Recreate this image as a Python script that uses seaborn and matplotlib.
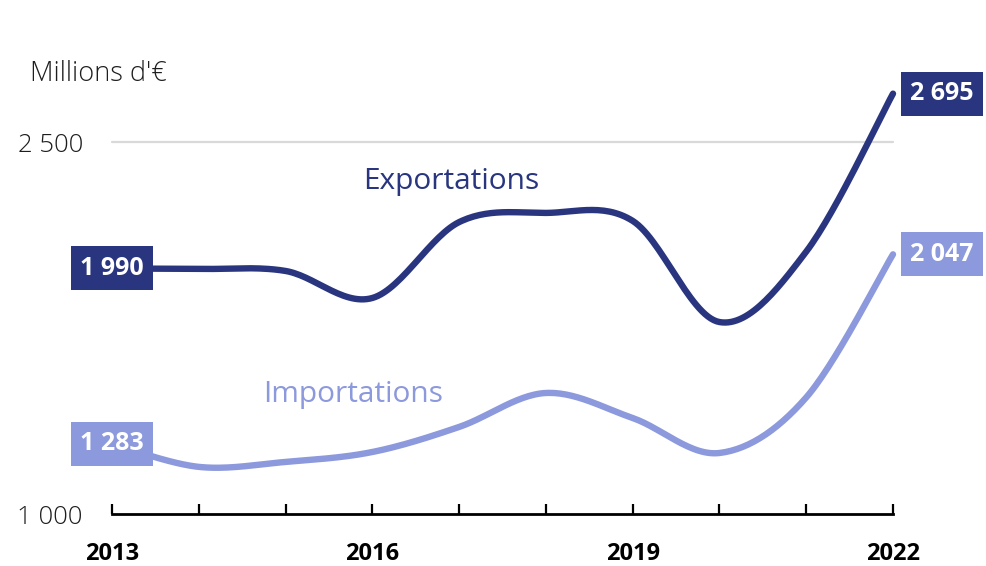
import numpy as np
import pandas as pd
import matplotlib
matplotlib.use("Agg")
import matplotlib.pyplot as plt
import seaborn as sns

# ── data ────────────────────────────────────────────────────────────────────
years = [2013, 2014, 2015, 2016, 2017, 2018, 2019, 2020, 2021, 2022]
exportations = [1990, 1988, 1980, 1871, 2177, 2214, 2182, 1774, 2058, 2695]
importations = [1283, 1190, 1210, 1250, 1351, 1488, 1387, 1246, 1470, 2047]
year_labels = ["2013", "", "", "2016", "", "", "2019", "", "", "2022"]
y_ticks = [1000, 2500]
y_tick_labels = ["1 000", "2 500"]

DARK = "#29367f"
LIGHT = "#8c99dc"
TXT = "#1e1e1e"


def smooth(x, y, n=30):
    # catmull-rom curve through the yearly points (drawing only)
    x = np.asarray(x, float)
    y = np.asarray(y, float)
    px = np.concatenate([[x[0]], x, [x[-1]]])
    py = np.concatenate([[y[0]], y, [y[-1]]])
    xs, ys = [], []
    for i in range(1, len(px) - 2):
        t = np.linspace(0, 1, n, endpoint=False)
        for p, out in ((px, xs), (py, ys)):
            p0, p1, p2, p3 = p[i - 1], p[i], p[i + 1], p[i + 2]
            out.extend(0.5 * ((2 * p1) + (-p0 + p2) * t
                              + (2 * p0 - 5 * p1 + 4 * p2 - p3) * t ** 2
                              + (-p0 + 3 * p1 - 3 * p2 + p3) * t ** 3))
    xs.append(x[-1])
    ys.append(y[-1])
    return pd.DataFrame({"year": xs, "value": ys})


sns.set_style("white")
plt.rcParams["font.family"] = ["Open Sans", "DejaVu Sans"]

fig = plt.figure(figsize=(9.87, 5.66), dpi=100)
ax = fig.add_axes([112 / 987, 52 / 566, 781 / 987, 372 / 566])

ax.axhline(2500, color="#d9d9d9", lw=1.6, zorder=0)

for vals, col in ((exportations, DARK), (importations, LIGHT)):
    sns.lineplot(data=smooth(years, vals), x="year", y="value", color=col,
                 lw=4.6, ax=ax, sort=False, estimator=None)
for l in ax.lines:
    l.set_clip_on(False)
    l.set_solid_capstyle("round")

ax.set_xlim(2013, 2022)
ax.set_ylim(1000, 2500)
ax.set_xlabel("")
ax.set_ylabel("")

for s in ["top", "right", "left"]:
    ax.spines[s].set_visible(False)
ax.spines["bottom"].set_color("black")
ax.spines["bottom"].set_linewidth(2)

ax.set_xticks(years)
ax.set_xticklabels(year_labels, fontsize=17, fontweight="bold", color="black")
ax.tick_params(axis="x", direction="in", length=7, width=1.6, pad=20,
               color="black", bottom=True)
ax.set_yticks(y_ticks)
ax.set_yticklabels(y_tick_labels, fontsize=18.5, fontweight="light", color=TXT)
ax.tick_params(axis="y", length=0, pad=21)

# value boxes
for vals, col in ((exportations, DARK), (importations, LIGHT)):
    box = dict(boxstyle="square,pad=0.38", fc=col, ec="none")
    ax.annotate(f"{vals[0]:,}".replace(",", " "), (years[0], vals[0]),
                ha="center", va="center", fontsize=18, fontweight="bold",
                color="white", bbox=box, zorder=5, annotation_clip=False)
    ax.annotate(f"{vals[-1]:,}".replace(",", " "), (years[-1], vals[-1]),
                xytext=(12.5, 0), textcoords="offset points",
                ha="left", va="center", fontsize=18, fontweight="bold",
                color="white", bbox=box, zorder=5, annotation_clip=False)

# series names
ax.text(2015.89, 2339, "Exportations", color=DARK, fontsize=21.5,
        ha="left", va="center")
ax.text(2014.74, 1480, "Importations", color=LIGHT, fontsize=21.5,
        ha="left", va="center")

fig.text(30 / 987, 1 - 74 / 566, "Millions d'\u20ac", fontsize=19.5,
         fontweight="light", color=TXT, ha="left", va="center")

fig.savefig("out.png", dpi=100)
